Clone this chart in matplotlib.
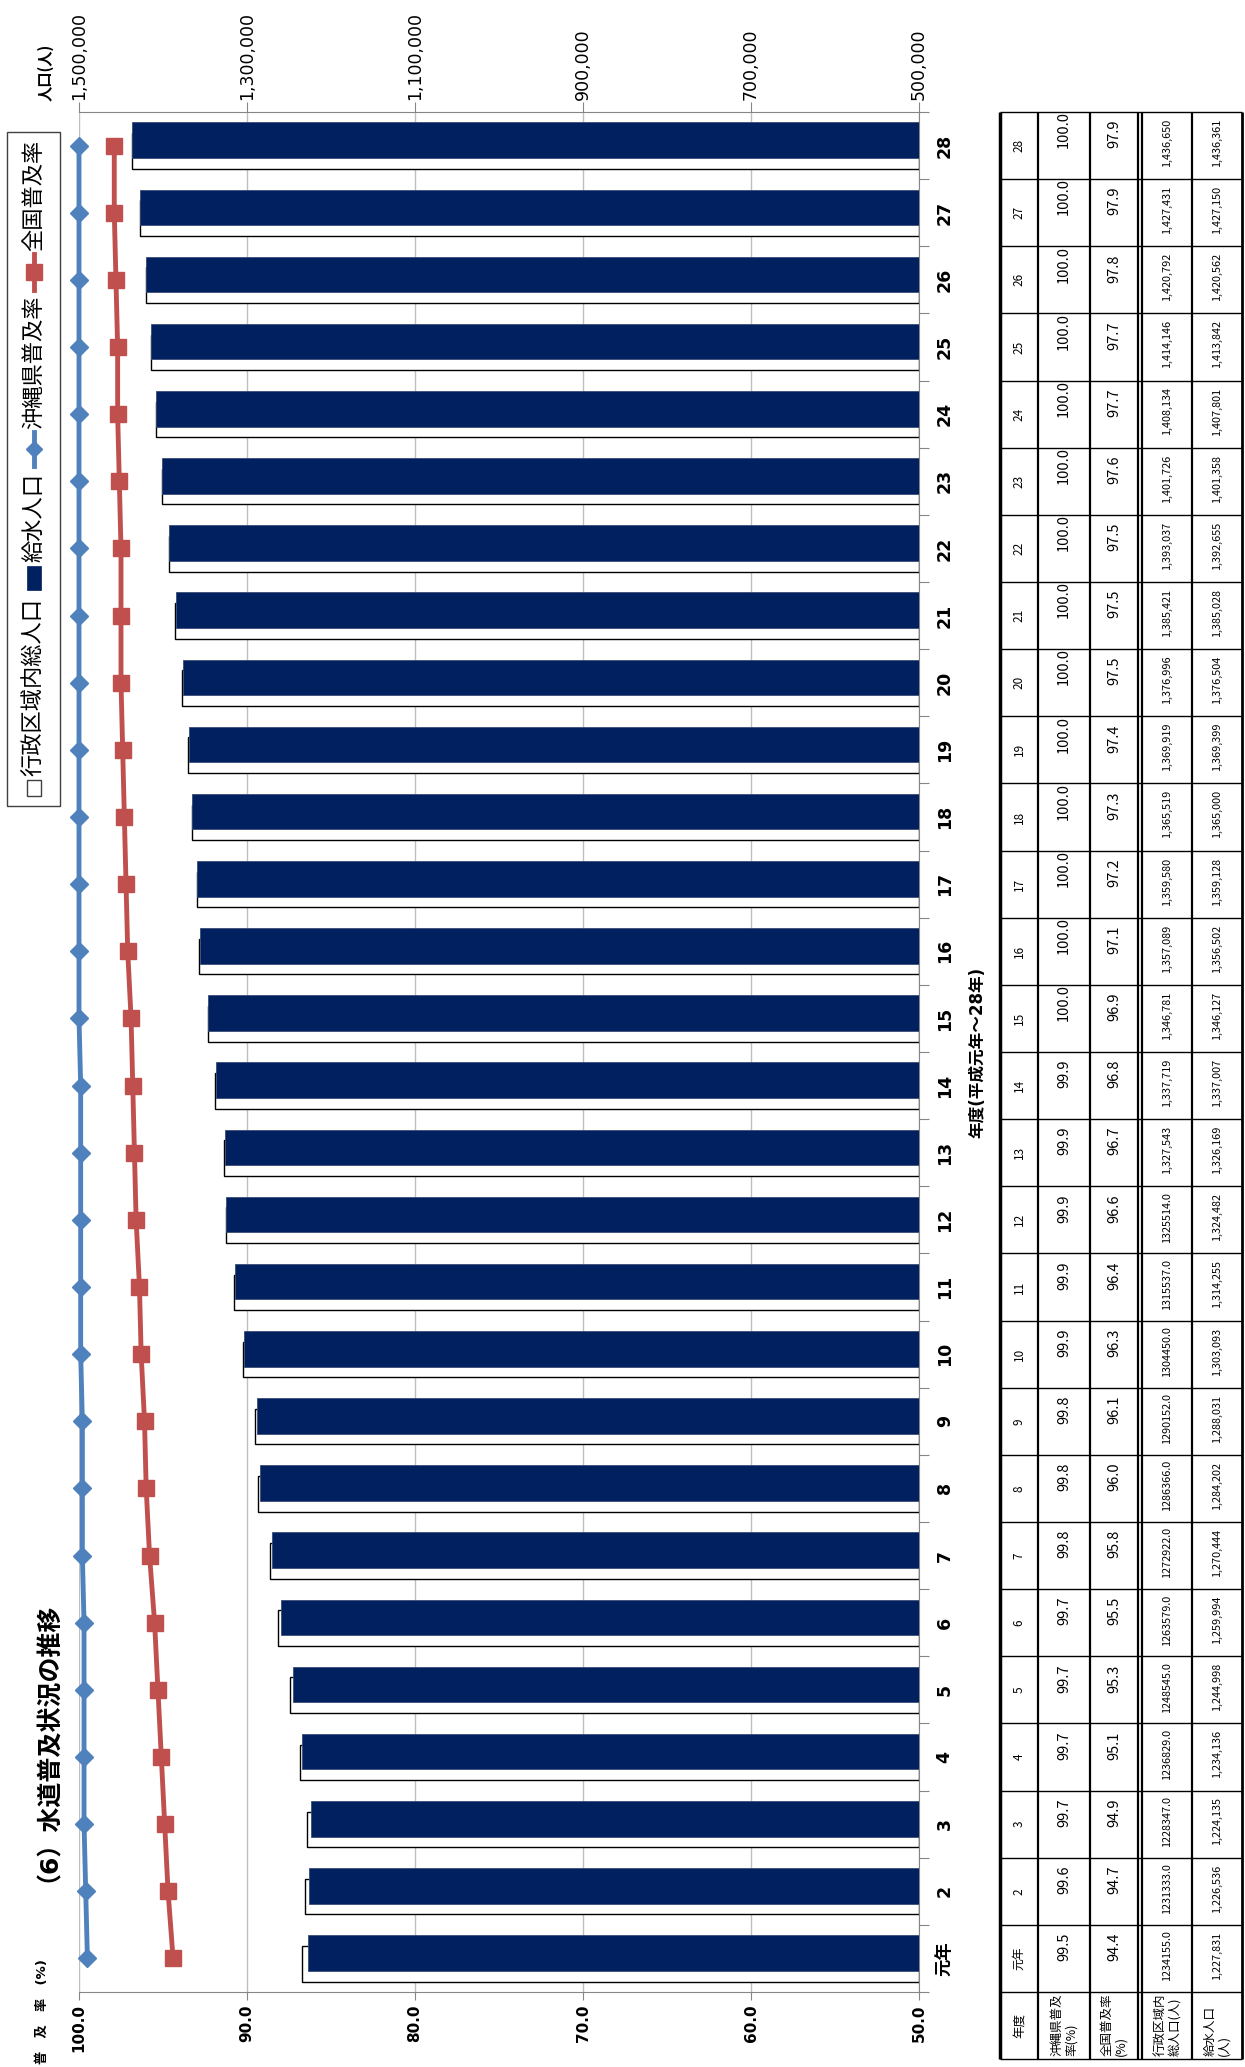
import numpy as np
import matplotlib
matplotlib.use("Agg")
import matplotlib.pyplot as plt
from matplotlib.patches import Rectangle
from matplotlib.lines import Line2D

# 回転した (横倒しの) グラフをそのまま描く
plt.rcParams["font.family"] = ["DejaVu Sans", "Noto Sans CJK JP"]

# ---------------------------------------------------------
# データ
# ---------------------------------------------------------
years = ["元年"] + [str(n) for n in range(2, 29)]

okinawa_rate = [99.5, 99.6, 99.7, 99.7, 99.7, 99.7, 99.8, 99.8, 99.8, 99.9,
                99.9, 99.9, 99.9, 99.9, 100.0, 100.0, 100.0, 100.0, 100.0, 100.0,
                100.0, 100.0, 100.0, 100.0, 100.0, 100.0, 100.0, 100.0]

national_rate = [94.4, 94.7, 94.9, 95.1, 95.3, 95.5, 95.8, 96.0, 96.1, 96.3,
                 96.4, 96.6, 96.7, 96.8, 96.9, 97.1, 97.2, 97.3, 97.4, 97.5,
                 97.5, 97.5, 97.6, 97.7, 97.7, 97.8, 97.9, 97.9]

admin_pop = [1234155, 1231333, 1228347, 1236829, 1248545, 1263579, 1272922,
             1286366, 1290152, 1304450, 1315537, 1325514, 1327543, 1337719,
             1346781, 1357089, 1359580, 1365519, 1369919, 1376996, 1385421,
             1393037, 1401726, 1408134, 1414146, 1420792, 1427431, 1436650]

served_pop = [1227831, 1226536, 1224135, 1234136, 1244998, 1259994, 1270444,
              1284202, 1288031, 1303093, 1314255, 1324482, 1326169, 1337007,
              1346127, 1356502, 1359128, 1365000, 1369399, 1376504, 1385028,
              1392655, 1401358, 1407801, 1413842, 1420562, 1427150, 1436361]

pop_ticks = [500000, 700000, 900000, 1100000, 1300000, 1500000]
rate_ticks = [50.0, 60.0, 70.0, 80.0, 90.0, 100.0]

NAVY = "#002060"
BLUE = "#4F81BD"
RED = "#C0504D"
AXGRAY = "#868686"
GRID = "#BFBFBF"

# ---------------------------------------------------------
# レイアウト (ピクセル, 左上原点)
# ---------------------------------------------------------
W, H = 1245, 2067
fig = plt.figure(figsize=(W / 100, H / 100), dpi=100)


def fx(px):
    return px / W


def fy(py):
    return 1 - py / H


def rect(x0, y0, x1, y1):
    return [fx(x0), fy(y1), (x1 - x0) / W, (y1 - y0) / H]


PL, PR, PT, PB = 79, 919, 112, 1992
ROW = (PB - PT) / len(years)

idx = np.arange(len(years))
base = 500000

ax = fig.add_axes(rect(PL, PT, PR, PB))
ax.barh(idx - 0.08, np.array(admin_pop) - base, left=base, height=0.53,
        color="white", edgecolor="black", linewidth=1.0, zorder=2)
ax.barh(idx + 0.08, np.array(served_pop) - base, left=base, height=0.53,
        color=NAVY, edgecolor="#3a4d75", linewidth=0.6, zorder=3)

ax2 = ax.twiny()
ax2.plot(okinawa_rate, idx, color=BLUE, lw=3.5, marker="D", ms=9,
         clip_on=False, zorder=5)
ax2.plot(national_rate, idx, color=RED, lw=3.5, marker="s", ms=12,
         clip_on=False, zorder=5)

# 人口軸 (上)
ax.xaxis.tick_top()
ax.set_xlim(1500000, 500000)
ax.set_xticks(pop_ticks, labels=[f"{t:,}" for t in pop_ticks],
              rotation=90, fontsize=12.5)
ax.tick_params(axis="x", direction="out", length=7, color=AXGRAY, pad=2)
ax.grid(axis="x", color=GRID, lw=1.0)
ax.set_axisbelow(True)

# 普及率軸 (下)
ax2.xaxis.tick_bottom()
ax2.set_xlim(100, 50)
ax2.set_xticks(rate_ticks, labels=[f"{t:.1f}" for t in rate_ticks],
               rotation=90, fontsize=11, fontweight="bold")
ax2.tick_params(axis="x", direction="out", length=6, color=AXGRAY, pad=3)

# 年度軸 (右)
ax.yaxis.tick_right()
ax.set_ylim(-0.5, len(years) - 0.5)
ax.set_yticks(np.arange(-0.5, len(years), 1), labels=[])
ax.set_yticks(idx, labels=years, minor=True, rotation=90,
              fontsize=12.5, fontweight="bold", va="center")
ax.tick_params(axis="y", which="major", direction="out", length=7,
               color=AXGRAY)
ax.tick_params(axis="y", which="minor", length=0, pad=12)

for side in ["left", "bottom"]:
    ax.spines[side].set_visible(False)
for side in ["top", "right"]:
    ax.spines[side].set_color(AXGRAY)
for side in ["left", "right", "top"]:
    ax2.spines[side].set_visible(False)
ax2.spines["bottom"].set_color(AXGRAY)

# 軸ラベル・タイトル
fig.text(fx(46), fy(101), "人口(人)", rotation=90, va="bottom", ha="center",
         fontsize=11, fontweight="bold", family=["Noto Sans CJK JP"])
fig.text(fx(42), fy(2064), "普　及　率　(%)", rotation=90, va="bottom",
         ha="center", fontsize=9.5, fontweight="bold")
fig.text(fx(977), fy((PT + PB) / 2), "年度(平成元年～28年)", rotation=90,
         va="center", ha="center", fontsize=12, fontweight="bold")
fig.text(fx(36), fy(1882), "（6）水道普及状況の推移", rotation=90,
         va="bottom", ha="center", fontsize=18, fontweight="bold")

# ---------------------------------------------------------
# 凡例 (回転しているので手で組む)
# ---------------------------------------------------------
fig.add_artist(Rectangle((fx(7), fy(806)), (60 - 7) / W, (806 - 132) / H,
                         transform=fig.transFigure, facecolor="white",
                         edgecolor="#404040", lw=1.0))
LX = 34
LFS = 16
fig.add_artist(Line2D([fx(LX)] * 3, [fy(290), fy(272), fy(254)],
                      transform=fig.transFigure, color=RED, lw=3.5,
                      marker="s", ms=11, markevery=[1]))
fig.text(fx(LX), fy(251), "全国普及率", rotation=90, va="bottom",
         ha="center", fontsize=LFS)
fig.add_artist(Line2D([fx(LX)] * 3, [fy(466), fy(449), fy(432)],
                      transform=fig.transFigure, color=BLUE, lw=3.5,
                      marker="D", ms=8, markevery=[1]))
fig.text(fx(LX), fy(429), "沖縄県普及率", rotation=90, va="bottom",
         ha="center", fontsize=LFS)
fig.add_artist(Rectangle((fx(LX - 7), fy(590)), 14 / W, 24 / H,
                         transform=fig.transFigure, facecolor=NAVY,
                         edgecolor=NAVY, lw=0.5))
fig.text(fx(LX), fy(562), "給水人口", rotation=90, va="bottom",
         ha="center", fontsize=LFS)
fig.add_artist(Rectangle((fx(LX - 7), fy(796)), 14 / W, 16 / H,
                         transform=fig.transFigure, facecolor="white",
                         edgecolor="#404040", lw=1.0))
fig.text(fx(LX), fy(776), "行政区域内総人口", rotation=90, va="bottom",
         ha="center", fontsize=LFS)

# ---------------------------------------------------------
# データテーブル (右側)
# ---------------------------------------------------------
TL, TR = 1000, 1242
tab = fig.add_axes(rect(TL, PT, TR, PB + ROW))
tab.set_xlim(TL, TR)
tab.set_ylim(-1.5, len(years) - 0.5)
tab.axis("off")

tab.hlines(np.arange(-1.5, len(years), 1), TL, TR, color="black", lw=1.0,
           clip_on=False)
for xv, lw in [(1000, 2.5), (1038, 1.6), (1090, 1.6), (1138, 1.6),
               (1142, 1.6), (1192, 1.6), (1242, 2.0)]:
    tab.vlines(xv, -1.5, len(years) - 0.5, color="black", lw=lw,
               clip_on=False)

TF = ["Noto Sans CJK JP", "DejaVu Sans"]
C0, C1, C2, C3, C4 = 1019, 1064, 1114, 1167, 1217

for i in idx:
    tab.text(C0, i, years[i], rotation=90, ha="center", va="center",
             fontsize=8.5, family=TF)
    tab.text(C1, i - 0.04, f"{okinawa_rate[i]:.1f}", rotation=90,
             ha="center", va="bottom", fontsize=10.5, family=TF)
    tab.text(C2, i - 0.04, f"{national_rate[i]:.1f}", rotation=90,
             ha="center", va="bottom", fontsize=10.5, family=TF)
    a_txt = f"{float(admin_pop[i]):.1f}" if i < 12 else f"{admin_pop[i]:,}"
    tab.text(C3, i + 0.04, a_txt, rotation=90, ha="center", va="center",
             fontsize=7.8, family=TF)
    tab.text(C4, i + 0.04, f"{served_pop[i]:,}", rotation=90, ha="center",
             va="center", fontsize=7.8, family=TF)

tab.text(C0, -1, "年度", rotation=90, ha="center", va="center",
         fontsize=9, family=TF)
for cx, lbl in [(C1, "沖縄県普及\n率(%)"), (C2, "全国普及率\n(%)"),
                (C3, "行政区域内\n総人口(人)"), (C4, "給水人口\n(人)")]:
    tab.text(cx, -1.45, lbl, rotation=90, ha="center", va="bottom",
             multialignment="left", linespacing=1.15, fontsize=9, family=TF)

fig.savefig("out.png", dpi=100)
